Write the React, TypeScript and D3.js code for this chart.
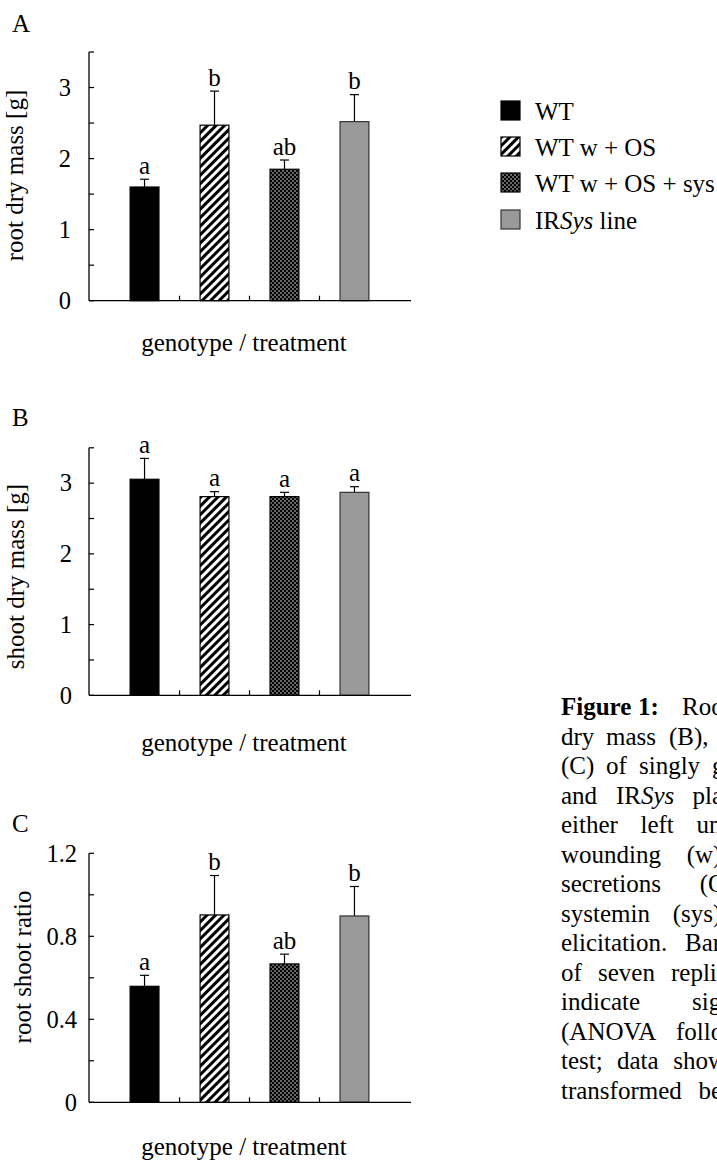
import React from 'react';
import * as d3 from 'd3';

const categories = ['WT', 'WT w + OS', 'WT w + OS + sys', 'IRSys line'];
const rootMass = [1.6, 2.47, 1.85, 2.52];
const rootMassErr = [0.11, 0.48, 0.13, 0.38];
const shootMass = [3.055, 2.81, 2.81, 2.87];
const shootMassErr = [0.295, 0.07, 0.06, 0.08];
const ratio = [0.559, 0.903, 0.667, 0.898];
const ratioErr = [0.053, 0.19, 0.047, 0.142];
const rootLetters = ['a', 'b', 'ab', 'b'];
const shootLetters = ['a', 'a', 'a', 'a'];
const ratioLetters = ['a', 'b', 'ab', 'b'];
const massTicks = [0, 1, 2, 3];
const massMinorTicks = [0.5, 1.5, 2.5, 3.5];
const ratioTicks = [0, 0.4, 0.8, 1.2];
const ratioMinorTicks = [0.2, 0.6, 1.0];

const captionLines: { words: string[]; bold?: number }[] = [
  { words: ['Figure', '1:', 'Root'], bold: 2 },
  { words: ['dry', 'mass', '(B),', 'and'] },
  { words: ['(C)', 'of', 'singly', 'grown'] },
  { words: ['and', 'IRSys', 'plants'] },
  { words: ['either', 'left', 'untreated'] },
  { words: ['wounding', '(w)', 'and'] },
  { words: ['secretions', '(OS)'] },
  { words: ['systemin', '(sys)', 'after'] },
  { words: ['elicitation.', 'Bars'] },
  { words: ['of', 'seven', 'replicates'] },
  { words: ['indicate', 'significant'] },
  { words: ['(ANOVA', 'followed'] },
  { words: ['test;', 'data', 'shown'] },
  { words: ['transformed', 'before'] },
];
const captionWordX = [
  [561, 638, 682],
  [561, 606, 669, 722],
  [561, 606, 639, 712],
  [561, 616, 692.5],
  [561, 640.5, 696.5],
  [561, 686.7, 730],
  [561, 699.7],
  [561, 672.7, 730],
  [561, 685],
  [561, 598, 671],
  [561, 692],
  [561, 676],
  [561, 617, 673.3],
  [561, 698.5],
];

const FONT = "'Liberation Serif', 'Times New Roman', Times, serif";
const fills = ['#000000', 'url(#stripes)', 'url(#dots)', '#999999'];
const strokes = ['#000000', '#000000', '#000000', '#333333'];

const x = d3.scaleBand<string>().domain(categories).range([89, 410]).padding(0.5875);

type PanelProps = {
  letter: string;
  letterY: number;
  yTop: number;
  yBottom: number;
  max: number;
  ticks: number[];
  minor: number[];
  values: number[];
  errors: number[];
  letters: string[];
  ylabel: string;
  ylabelX: number;
  ylabelY: number;
  tickEnd: number;
  xlabelY: number;
};

function Panel(p: PanelProps) {
  const y = d3.scaleLinear().domain([0, p.max]).range([p.yBottom, p.yTop]);
  const x0 = 89;
  const x1 = 411;
  const bw = x.bandwidth();
  return (
    <g>
      <text x={12} y={p.letterY} fontSize={25} fontFamily={FONT}>{p.letter}</text>
      {categories.map((c, i) => {
        const bx = x(c)!;
        const cx = bx + bw / 2;
        const top = y(p.values[i]);
        const et = y(p.values[i] + p.errors[i]);
        return (
          <g key={c}>
            <line x1={cx} x2={cx} y1={top} y2={et} stroke="#000" strokeWidth={1.2} />
            <line x1={cx - 4.5} x2={cx + 4.5} y1={et} y2={et} stroke="#000" strokeWidth={1.2} />
            <rect x={bx} y={top} width={bw} height={p.yBottom - top} fill={fills[i]} stroke={strokes[i]} strokeWidth={1.2} />
            <text x={cx} y={et - 5.5} textAnchor="middle" fontSize={25} fontFamily={FONT}>{p.letters[i]}</text>
          </g>
        );
      })}
      <line x1={x0} x2={x0} y1={p.yTop} y2={p.yBottom} stroke="#000" strokeWidth={1.3} />
      <line x1={x0} x2={x1} y1={p.yBottom} y2={p.yBottom} stroke="#000" strokeWidth={1.3} />
      {[...p.ticks, ...p.minor].map((t) => (
        <line key={'t' + t} x1={x0} x2={x0 + 5} y1={y(t)} y2={y(t)} stroke="#000" strokeWidth={1.2} />
      ))}
      {categories.slice(1).map((c) => (
        <line key={'xt' + c} x1={x(c)! - x.step() * x.paddingInner() / 2} x2={x(c)! - x.step() * x.paddingInner() / 2} y1={p.yBottom} y2={p.yBottom - 5} stroke="#000" strokeWidth={1.2} />
      ))}
      {p.ticks.map((t) => (
        <text key={'l' + t} x={p.tickEnd} y={y(t)} dy="0.34em" textAnchor="end" fontSize={24.5} fontFamily={FONT}>{String(t)}</text>
      ))}
      <text transform={`translate(${p.ylabelX},${p.ylabelY}) rotate(-90)`} textAnchor="middle" fontSize={25} fontFamily={FONT}>{p.ylabel}</text>
      <text x={244} y={p.xlabelY} textAnchor="middle" fontSize={25} fontFamily={FONT}>genotype / treatment</text>
    </g>
  );
}

export default function App() {
  const legendTops = [101, 137, 173, 210];
  return (
    <svg width={717} height={1162} style={{ position: 'absolute', left: 0, top: 0, background: '#fff' }}>
      <defs>
        <pattern id="stripes" patternUnits="userSpaceOnUse" width={6} height={6} patternTransform="rotate(45)">
          <rect width={6} height={6} fill="#fff" />
          <rect width={3} height={6} fill="#000" />
        </pattern>
        <pattern id="dots" patternUnits="userSpaceOnUse" width={4} height={4}>
          <rect width={4} height={4} fill="#000" />
          <circle cx={1} cy={1} r={0.75} fill="#fff" />
          <circle cx={3} cy={3} r={0.75} fill="#fff" />
        </pattern>
      </defs>
      <rect width={717} height={1162} fill="#fff" />
      <Panel letter="A" letterY={32} yTop={52} yBottom={300.7} max={3.5} ticks={massTicks} minor={massMinorTicks}
        values={rootMass} errors={rootMassErr} letters={rootLetters} ylabel="root dry mass [g]" ylabelX={23} ylabelY={175.5}
        tickEnd={71} xlabelY={351} />
      <Panel letter="B" letterY={426} yTop={447.8} yBottom={695.3} max={3.5} ticks={massTicks} minor={massMinorTicks}
        values={shootMass} errors={shootMassErr} letters={shootLetters} ylabel="shoot dry mass [g]" ylabelX={24} ylabelY={576.5}
        tickEnd={72} xlabelY={751} />
      <Panel letter="C" letterY={832} yTop={853.3} yBottom={1102.3} max={1.2} ticks={ratioTicks} minor={ratioMinorTicks}
        values={ratio} errors={ratioErr} letters={ratioLetters} ylabel="root shoot ratio" ylabelX={31} ylabelY={967}
        tickEnd={77} xlabelY={1155} />
      {categories.map((c, i) => (
        <g key={'lg' + c}>
          <rect x={501} y={legendTops[i]} width={19} height={19} fill={fills[i]} stroke={strokes[i]} strokeWidth={1.2} />
          <text x={535} y={legendTops[i] + 18.5} fontSize={25} fontFamily={FONT}>
            {c === 'IRSys line' ? (<><tspan>IR</tspan><tspan fontStyle="italic">Sys</tspan><tspan> line</tspan></>) : c}
          </text>
        </g>
      ))}
      {captionLines.map((ln, li) => (
        <g key={'cap' + li}>
          {ln.words.map((w, wi) => (
            <text key={wi} x={captionWordX[li][wi]} y={715 + li * 29.5} fontSize={25} fontFamily={FONT}
              fontWeight={ln.bold !== undefined && wi < ln.bold ? 'bold' : 'normal'}>
              {w === 'IRSys' ? (<><tspan>IR</tspan><tspan fontStyle="italic">Sys</tspan></>) : w}
            </text>
          ))}
        </g>
      ))}
    </svg>
  );
}
